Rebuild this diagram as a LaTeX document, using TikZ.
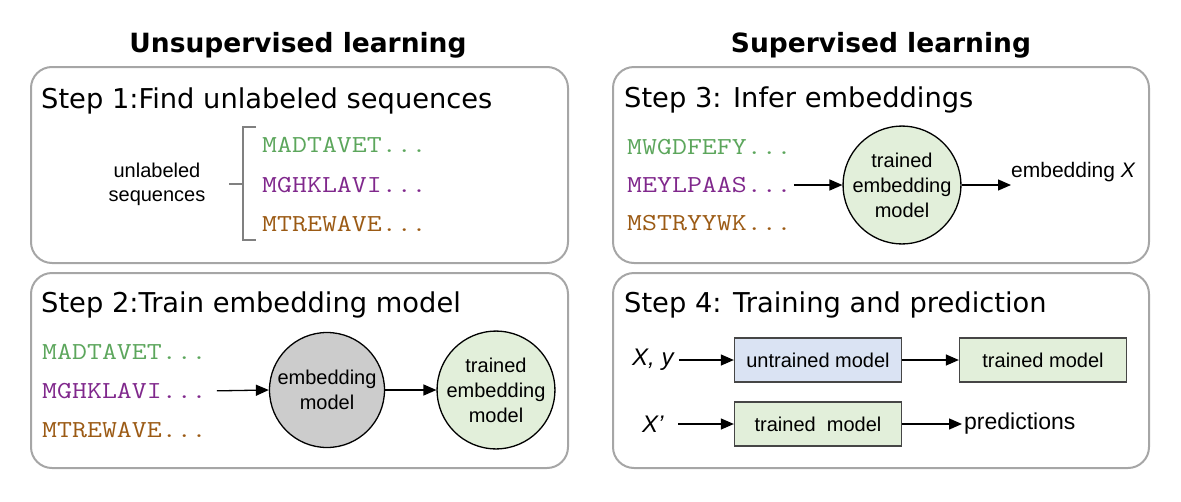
\documentclass[tikz,border=0pt]{standalone}
\usepackage{fontspec}
\setmainfont{Liberation Sans}
\newfontfamily\verd{DejaVu Sans}
\newfontfamily\mono{Latin Modern Mono}[FakeStretch=1.19]
\usetikzlibrary{arrows.meta}
\definecolor{seqgreen}{RGB}{92,166,92}
\definecolor{seqpurple}{RGB}{128,40,140}
\definecolor{seqbrown}{RGB}{155,90,20}
\definecolor{panelgray}{RGB}{166,166,166}
\definecolor{circgray}{RGB}{204,204,204}
\definecolor{lightgreen}{RGB}{226,239,218}
\definecolor{lightblue}{RGB}{218,227,243}
\definecolor{rectborder}{RGB}{70,70,70}
\tikzset{
  panel/.style={draw=panelgray, line width=2pt, rounded corners=21pt},
  titletext/.style={font=\verd\bfseries\fontsize{26.5}{30}\selectfont, anchor=base, inner sep=0pt},
  heading/.style={font=\verd\fontsize{27.3}{32}\selectfont, anchor=base west, inner sep=0pt},
  seq/.style={font=\mono\fontsize{24.4}{28}\selectfont, anchor=west, inner sep=0pt},
  lbl/.style={font=\fontsize{20}{24}\selectfont, align=center, inner sep=0pt},
  circlbl/.style={circle, draw=black, line width=1.3pt, minimum size=115pt, inner sep=0pt,
    font=\fontsize{20}{25}\selectfont, align=center},
  modelbox/.style={draw=rectborder, line width=1.3pt, minimum width=167pt, minimum height=44pt,
    inner sep=0pt, font=\fontsize{20}{24}\selectfont},
  arr/.style={-{Triangle[length=13pt,width=11pt]}, line width=1.3pt},
  bracestyle/.style={draw=gray, line width=1.6pt},
}
\begin{document}
\begin{tikzpicture}[x=1pt,y=-1pt]
\useasboundingbox (0,0) rectangle (1181,501);
% titles
\node[titletext] (t1) at (298,52) {Unsupervised learning};
\node[titletext] (t2) at (881,52) {Supervised learning};
% panels
\draw[panel] (31,67) rectangle (568,263);
\draw[panel] (31,273) rectangle (568,468);
\draw[panel] (613,67) rectangle (1149,263);
\draw[panel] (613,273) rectangle (1149,468);
% headings
\node[heading] (h1) at (41,108) {Step 1:Find unlabeled sequences};
\node[heading] (h2) at (41,312) {Step 2:Train embedding model};
\node[heading] (h3) at (624,107) {Step 3: Infer embeddings};
\node[heading] (h4) at (624,312) {Step 4: Training and prediction};
% step 1
\node[lbl] (ul) at (157,184) {unlabeled\\sequences};
\draw[bracestyle] (256,127) -- (243,127) -- (243,240) -- (256,240);
\draw[bracestyle] (229,184) -- (243,184);
\node[seq, text=seqgreen] (s1a) at (262,145) {MADTAVET...};
\node[seq, text=seqpurple] (s1b) at (262,185) {MGHKLAVI...};
\node[seq, text=seqbrown] (s1c) at (262,224) {MTREWAVE...};
% step 2
\node[seq, text=seqgreen] (s2a) at (42,352) {MADTAVET...};
\node[seq, text=seqpurple] (s2b) at (42,391) {MGHKLAVI...};
\node[seq, text=seqbrown] (s2c) at (42,430) {MTREWAVE...};
\node[circlbl, fill=circgray] (em) at (327,390) {embedding\\model};
\node[circlbl, fill=lightgreen] (tem) at (496,390) {trained\\embedding\\model};
\draw[arr, shorten <=10pt] (s2b.east) -- (em.west);
\draw[arr] (em.east) -- (tem.west);
% step 3
\node[seq, text=seqgreen] (s3a) at (627,147) {MWGDFEFY...};
\node[seq, text=seqpurple] (s3b) at (627,185) {MEYLPAAS...};
\node[seq, text=seqbrown] (s3c) at (627,223) {MSTRYYWK...};
\node[circlbl, fill=lightgreen] (tem3) at (902,185) {trained\\embedding\\model};
\node[lbl, anchor=west, font=\fontsize{21}{24}\selectfont] (embx) at (1011,172) {embedding \textit{X}};
\draw[arr, shorten <=2pt] (s3b.east) -- (tem3.west);
\draw[arr] (tem3.east) -- (tem3.east -| embx.west);
% step 4
\node[lbl, anchor=west, font=\fontsize{24}{28}\selectfont] (xy) at (632,360) {\textit{X, y}};
\node[modelbox, fill=lightblue] (um) at (818,360) {untrained model};
\node[modelbox, fill=lightgreen] (tm) at (1043,360) {trained model};
\node[lbl, anchor=west, font=\fontsize{24}{28}\selectfont] (xp) at (642,424) {\textit{X\char"0027}};
\node[modelbox, fill=lightgreen] (tm2) at (818,424) {trained\ \ model};
\node[lbl, anchor=west, font=\fontsize{23}{26}\selectfont] (pred) at (964,424) {predictions};
\draw[arr, shorten <=4pt] (xy.east) -- (um.west);
\draw[arr] (um.east) -- (tm.west);
\draw[arr, shorten <=14pt] (xp.east) -- (tm2.west);
\draw[arr, shorten >=2pt] (tm2.east) -- (pred.west);
\end{tikzpicture}
\end{document}
